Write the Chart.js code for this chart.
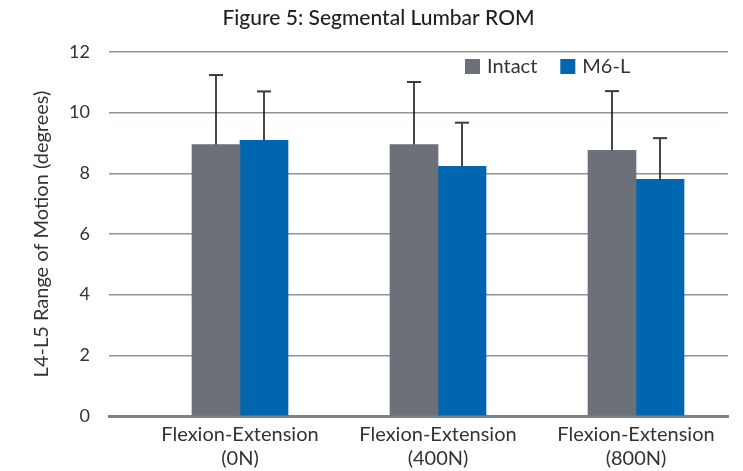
<!DOCTYPE html>
<html>
<head>
<meta charset="utf-8">
<title>Segmental Lumbar ROM</title>
<script src="https://cdn.jsdelivr.net/npm/chart.js@4/dist/chart.umd.min.js"></script>
<style>
  html, body { margin: 0; padding: 0; background: #ffffff; }
  #wrap { width: 743px; height: 471px; }
</style>
</head>
<body>
<div id="wrap"><canvas id="chart" width="743" height="471"></canvas></div>
<script>
// Load cases (two-line axis labels)
const categories = [
  ['Flexion-Extension', '(0N)'],
  ['Flexion-Extension', '(400N)'],
  ['Flexion-Extension', '(800N)']
];
const seriesNames = ['Intact', 'M6-L'];
// Mean L4-L5 range of motion, degrees
const intactROM = [8.95, 8.95, 8.76];
const m6lROM = [9.09, 8.23, 7.80];
// Standard deviations (upper whiskers)
const intactSD = [2.29, 2.06, 1.95];
const m6lSD = [1.61, 1.44, 1.36];
const yTicks = [0, 2, 4, 6, 8, 10, 12];

const seriesColors = ['#6b7079', '#0066b0'];
const textColor = '#333333';
const fontFamily = 'Lato, "Open Sans", sans-serif';

// Upward-only error whiskers with a flat cap
const errorBars = {
  id: 'errorBars',
  afterDatasetsDraw(chart) {
    const { ctx, scales: { y } } = chart;
    chart.data.datasets.forEach((ds, di) => {
      const meta = chart.getDatasetMeta(di);
      meta.data.forEach((bar, i) => {
        const top = y.getPixelForValue(ds.data[i].y + ds.sd[i]);
        ctx.save();
        ctx.strokeStyle = '#1a1a1a';
        ctx.lineWidth = 1.6;
        ctx.beginPath();
        ctx.moveTo(bar.x, bar.y);
        ctx.lineTo(bar.x, top);
        ctx.stroke();
        ctx.strokeStyle = '#3a3a3a';
        ctx.lineWidth = 2;
        ctx.beginPath();
        ctx.moveTo(bar.x - 7, top);
        ctx.lineTo(bar.x + 7, top);
        ctx.stroke();
        ctx.restore();
      });
    });
  }
};

// Legend sitting inside the plot, upper right
const insetLegend = {
  id: 'insetLegend',
  afterDraw(chart) {
    const { ctx, chartArea } = chart;
    let x = chartArea.left + 356;
    const y = chartArea.top + 7;
    ctx.save();
    ctx.font = '20px ' + fontFamily;
    ctx.textBaseline = 'middle';
    ctx.textAlign = 'left';
    chart.data.datasets.forEach((ds) => {
      ctx.fillStyle = ds.backgroundColor;
      ctx.fillRect(x, y, 15, 15);
      ctx.fillStyle = textColor;
      ctx.fillText(ds.label, x + 22, y + 8);
      x += 22 + ctx.measureText(ds.label).width + 23;
    });
    ctx.restore();
  }
};

const toPoints = (vals) => vals.map((v, i) => ({ x: i, y: v }));

new Chart(document.getElementById('chart'), {
  type: 'bar',
  data: {
    datasets: [
      { label: seriesNames[0], data: toPoints(intactROM), sd: intactSD,
        backgroundColor: seriesColors[0], barThickness: 48 },
      { label: seriesNames[1], data: toPoints(m6lROM), sd: m6lSD,
        backgroundColor: seriesColors[1], barThickness: 48 }
    ]
  },
  options: {
    responsive: false,
    animation: false,
    devicePixelRatio: 1,
    layout: { padding: { left: 29, right: 15, top: 0, bottom: 0 } },
    plugins: {
      legend: { display: false },
      tooltip: { enabled: false },
      title: {
        display: true,
        text: 'Figure 5: Segmental Lumbar ROM',
        color: '#231f20',
        font: { family: fontFamily, size: 21, weight: '500', lineHeight: 1.2 },
        padding: { top: 6, bottom: 20.8 }
      }
    },
    scales: {
      x: {
        type: 'linear',
        offset: false,
        min: -0.6616,
        max: 2.4646,
        grid: { display: false, drawTicks: false },
        border: { display: true, color: '#7b8188', width: 3 },
        afterBuildTicks: (s) => { s.ticks = categories.map((_, i) => ({ value: i })); },
        afterFit: (s) => { s.height = 55; },
        ticks: {
          autoSkip: false,
          maxRotation: 0,
          padding: 7,
          color: textColor,
          font: { family: fontFamily, size: 20, lineHeight: 1.2 },
          callback: (v) => categories[v]
        }
      },
      y: {
        min: 0,
        max: 12,
        afterBuildTicks: (s) => { s.ticks = yTicks.map((v) => ({ value: v })); },
        afterFit: (s) => { s.width = 80; },
        grid: { color: '#8e949a', lineWidth: 1.6, drawTicks: false },
        border: { display: false },
        ticks: {
          padding: 19,
          color: textColor,
          font: { family: fontFamily, size: 18 }
        },
        title: {
          display: true,
          text: 'L4-L5 Range of Motion (degrees)',
          color: textColor,
          font: { family: fontFamily, size: 20, lineHeight: 1.2 },
          padding: { top: 1, bottom: 0 }
        }
      }
    }
  },
  plugins: [errorBars, insetLegend]
});
</script>
</body>
</html>
